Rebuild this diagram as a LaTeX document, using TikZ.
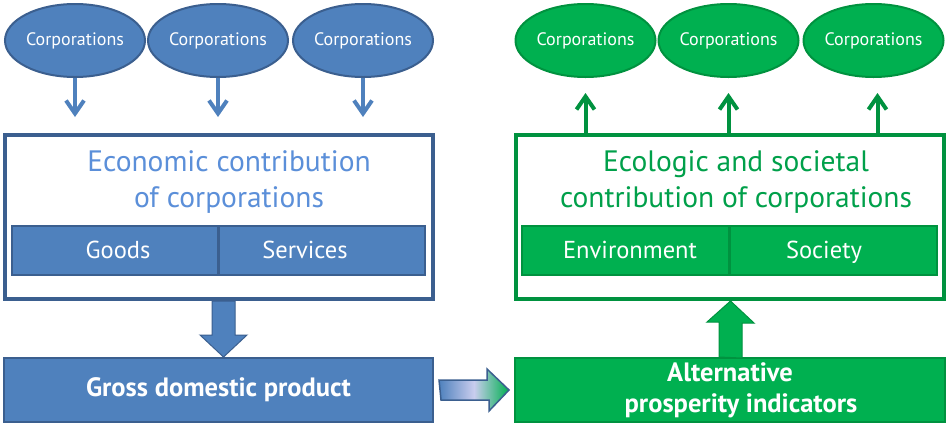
\documentclass[tikz,border=0pt]{standalone}
\usepackage{fontspec}
\setmainfont{PT Sans}
\usetikzlibrary{shapes.geometric,arrows.meta,calc}
\definecolor{bfill}{HTML}{4F81BD}
\definecolor{bdark}{HTML}{3B5F8F}
\definecolor{btext}{HTML}{5B8FD9}
\definecolor{gfill}{HTML}{00B050}
\definecolor{gdark}{HTML}{00923F}
\definecolor{gtext}{HTML}{00A04A}
\definecolor{midlav}{HTML}{C9CDEE}
\begin{document}
\begin{tikzpicture}[x=1pt,y=-1pt,
  ell/.style={ellipse, draw, line width=2pt, minimum width=140pt, minimum height=73pt, inner sep=0pt, text=white, font=\fontsize{18}{20}\selectfont},
  bell/.style={ell, fill=bfill, draw=bdark},
  gell/.style={ell, fill=gfill, draw=gdark},
  bigbox/.style={draw, line width=4pt, fill=white, minimum width=428pt, minimum height=164pt, inner sep=0pt},
  cell/.style={draw, line width=2pt, minimum width=206pt, minimum height=49pt, inner sep=0pt},
  celltext/.style={text=white, font=\fontsize{24.5}{26}\selectfont, inner sep=0pt, anchor=base},
  headtext/.style={align=center, inner sep=0pt, font=\fontsize{29.5}{36}\selectfont},
  result/.style={draw, line width=2pt, minimum width=429pt, minimum height=64pt, inner sep=0pt, text=white, align=center, font=\fontsize{26.5}{31}\selectfont\bfseries},
  sarrowb/.style={draw=bfill, line width=4pt, -{Straight Barb[length=13pt,width=18pt]}},
  sarrowg/.style={draw=gdark, line width=4pt, -{Straight Barb[length=13pt,width=18pt]}},
  blockb/.style={draw=bdark, line width=1pt, fill=bfill},
  blockg/.style={draw=gdark, line width=1pt, fill=gfill},
]
\useasboundingbox[fill=white] (0,0) rectangle (949,445);

% ellipses
\node[bell] (b1) at (75,40.5) {Corporations};
\node[bell] (b2) at (218,40.5) {Corporations};
\node[bell] (b3) at (363,40.5) {Corporations};
\node[gell] (g1) at (585.5,40.5) {Corporations};
\node[gell] (g2) at (728.5,40.5) {Corporations};
\node[gell] (g3) at (873.5,40.5) {Corporations};

% big boxes
\node[bigbox, draw=bdark] (econ) at (218.7,217) {};
\node[bigbox, draw=gdark] (eco) at (730,217) {};
\node[headtext, text=btext] (econt) at (229,182) {Economic contribution\\of corporations};
\node[headtext, text=gtext] (ecot) at (736,182) {Ecologic and societal\\contribution of corporations};

% cells
\node[cell, fill=bfill, draw=bdark] (goods) at (115,250.5) {};
\node[cell, fill=bfill, draw=bdark] (serv) at (322,250.5) {};
\node[celltext] (goodst) at (118,258.5) {Goods};
\node[celltext] (servt) at (305,258.5) {Services};
\node[cell, fill=gfill, draw=gdark, minimum width=207pt] (env) at (625.5,250.5) {};
\node[cell, fill=gfill, draw=gdark, minimum width=207pt] (soc) at (833,250.5) {};
\node[celltext] (envt) at (630,258.5) {Environment};
\node[celltext] (soct) at (824,258.5) {Society};

% result boxes
\node[result, fill=bfill, draw=bdark] (gdp) at (218.5,390) {Gross domestic product};
\node[result, fill=gfill, draw=gdark, minimum width=430pt] (alt) at (730,390) {Alternative\\\hspace*{22pt}prosperity indicators};

% small arrows
\draw[sarrowb, shorten >=16pt] (b1.south) -- (b1.south |- econ.north);
\draw[sarrowb, shorten >=16pt] (b2.south) -- (b2.south |- econ.north);
\draw[sarrowb, shorten >=16pt] (b3.south) -- (b3.south |- econ.north);
\draw[sarrowg, shorten >=15pt] (g1.south |- eco.north) -- (g1.south);
\draw[sarrowg, shorten >=15pt] (g2.south |- eco.north) -- (g2.south);
\draw[sarrowg, shorten >=15pt] ([xshift=4pt]g3.south |- eco.north) -- ([xshift=4pt]g3.south);

% block arrows
\coordinate (dxb) at (223.5,0);
\coordinate (dxg) at (730.5,0);
\draw[blockb] ($(econ.south -| dxb)+(-11.5,0)$) -- ++(0,34) -- ++(-12,0) -- (gdp.north -| dxb) -- ++(23.5,-22) -- ++(-12,0) -- ++(0,-34) -- cycle;
\draw[blockg] ($(alt.north -| dxg)+(-11.5,0)$) -- ++(0,-35) -- ++(-12,0) -- (eco.south -| dxg) -- ++(23.5,22) -- ++(-12,0) -- ++(0,35) -- cycle;

% gradient arrow
\draw[draw=bdark, line width=1.5pt, left color=bfill, right color=gfill, middle color=midlav]
  ($(gdp.east)+(5,-10)$) -- ++(48,0) -- ++(0,-11) -- ($(alt.west)+(-5,0)$) -- ++(-20,21) -- ++(0,-11) -- ++(-48,0) -- cycle;
\end{tikzpicture}
\end{document}
